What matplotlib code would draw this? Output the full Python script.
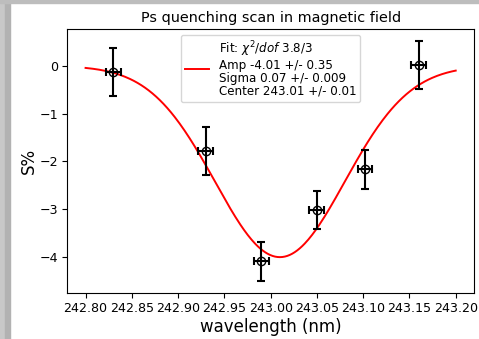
import matplotlib
matplotlib.use("Agg")
import matplotlib.pyplot as plt
import numpy as np

# measured points
wavelength = [242.83, 242.93, 242.99, 243.05, 243.102, 243.16]
s_percent = [-0.13, -1.78, -4.10, -3.03, -2.17, 0.02]
s_err = [0.50, 0.50, 0.41, 0.40, 0.41, 0.50]
wl_err = [0.008, 0.008, 0.008, 0.008, 0.008, 0.008]

# fit result shown in the legend
amp = -4.01
sigma = 0.07
center = 243.01
fit_label = ("Fit: $\\chi^2/dof$ 3.8/3\nAmp -4.01 +/- 0.35\n"
             "Sigma 0.07 +/- 0.009\nCenter 243.01 +/- 0.01")

fig = plt.figure(figsize=(4.79, 3.39), dpi=100)
ax = fig.add_axes([0.140, 0.1357, 0.850, 0.7788])

x = np.linspace(242.80, 243.20, 300)
ax.plot(x, amp * np.exp(-(x - center) ** 2 / (2 * sigma ** 2)), color="red",
        lw=1.4, label=fit_label)
ax.errorbar(wavelength, s_percent, yerr=s_err, xerr=wl_err, fmt="o", mfc="none",
            mec="black", color="black", ms=6, capsize=3, elinewidth=1.5,
            capthick=1.5)

ax.set_xticks(np.arange(242.80, 243.201, 0.05))
ax.set_xticklabels(["%.2f" % t for t in np.arange(242.80, 243.201, 0.05)])
ax.tick_params(labelsize=9.1, pad=3)
ax.set_xlabel("wavelength (nm)", fontsize=12, labelpad=2)
ax.set_ylabel("S%", fontsize=12, labelpad=1)
ax.set_title("Ps quenching scan in magnetic field", fontsize=10.4, pad=5)
leg = ax.legend(loc="upper center", fontsize=8.6, handlelength=2, borderpad=0.35,
                labelspacing=0, borderaxespad=0.5)
leg.get_texts()[0].set_linespacing(1.0)

# grey frame of the screenshot
fig.patches.append(plt.Rectangle((0, 0), 5 / 479, 1, transform=fig.transFigure,
                                 color="#c8c8c8", zorder=-1))
fig.patches.append(plt.Rectangle((5 / 479, 0), 5 / 479, 1, transform=fig.transFigure,
                                 color="#b2b2b2", zorder=-1))
fig.patches.append(plt.Rectangle((0, 1 - 3 / 339), 1, 3 / 339, transform=fig.transFigure,
                                 color="#bdbdbd", zorder=-1))

fig.savefig("out.png", dpi=100)
